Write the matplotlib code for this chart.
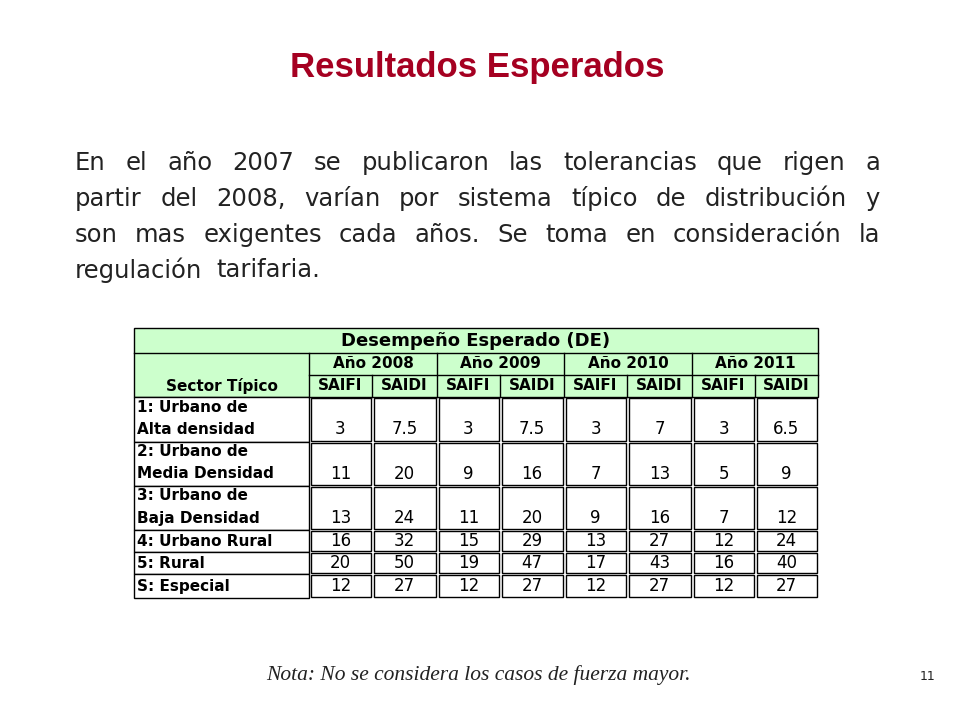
import matplotlib.pyplot as plt
from matplotlib.patches import Rectangle

title = "Resultados Esperados"
paragraph = [
    "En el año 2007 se publicaron las tolerancias que rigen a",
    "partir del 2008, varían por sistema típico de distribución y",
    "son mas exigentes cada años. Se toma en consideración la",
    "regulación  tarifaria.",
]
table_title = "Desempeño Esperado (DE)"
years = ["Año 2008", "Año 2009", "Año 2010", "Año 2011"]
indices = ["SAIFI", "SAIDI"]
sectors = ["1: Urbano de\nAlta densidad", "2: Urbano de\nMedia Densidad",
           "3: Urbano de\nBaja Densidad", "4: Urbano Rural", "5: Rural", "S: Especial"]
values = [
    ["3", "7.5", "3", "7.5", "3", "7", "3", "6.5"],
    ["11", "20", "9", "16", "7", "13", "5", "9"],
    ["13", "24", "11", "20", "9", "16", "7", "12"],
    ["16", "32", "15", "29", "13", "27", "12", "24"],
    ["20", "50", "19", "47", "17", "43", "16", "40"],
    ["12", "27", "12", "27", "12", "27", "12", "27"],
]
note = "Nota: No se considera los casos de fuerza mayor."

fig = plt.figure(figsize=(9.6, 7.2), dpi=100)
ax = fig.add_axes([0, 0, 1, 1])
ax.set_xlim(0, 960)
ax.set_ylim(720, 0)
ax.axis("off")

ax.text(477, 67, title, ha="center", va="center", fontsize=25, fontweight="bold",
        color="#A50021", family="Liberation Sans")

# justified paragraph
renderer = fig.canvas.get_renderer()
x0, x1 = 75, 880
for i, line in enumerate(paragraph):
    y = 163 + i * 35.8
    words = line.split()
    texts = [ax.text(0, y, w, ha="left", va="center", fontsize=17.5, color="#222222",
                     family="DejaVu Sans") for w in words]
    widths = [t.get_window_extent(renderer).width for t in texts]
    if i < len(paragraph) - 1:
        gap = (x1 - x0 - sum(widths)) / (len(words) - 1)
    else:
        gap = 14
    x = x0
    for t, w in zip(texts, widths):
        t.set_x(x)
        x += w + gap

# table
green = "#CCFFCC"
cols = [309, 372, 437, 500, 564, 627, 692, 755, 818]
left, right = 134, 818
rows = [397, 442, 486, 530, 552, 574, 598]
tkw = dict(fontsize=11, fontweight="bold", family="DejaVu Sans", color="black")

ax.add_patch(Rectangle((left, 328), right - left, 397 - 328, facecolor=green, edgecolor="black", lw=1))
ax.plot([left, right], [353, 353], color="black", lw=1)
ax.plot([cols[0], right], [375, 375], color="black", lw=1)
ax.text((left + right) / 2, 341, table_title, ha="center", va="center", **{**tkw, "fontsize": 13})
ax.text((left + cols[0]) / 2, 386, "Sector Típico", ha="center", va="center", **tkw)
for j, yr in enumerate(years):
    ax.text((cols[2 * j] + cols[2 * j + 2]) / 2, 364, yr, ha="center", va="center", **tkw)
    for k, ind in enumerate(indices):
        ax.text((cols[2 * j + k] + cols[2 * j + k + 1]) / 2, 386, ind, ha="center", va="center", **tkw)
for c in cols[:-1]:
    top = 353 if c in cols[::2] else 375
    ax.plot([c, c], [top, 397], color="black", lw=1)

for r in range(len(sectors)):
    y0, y1 = rows[r], rows[r + 1]
    ax.add_patch(Rectangle((left, y0), cols[0] - left, y1 - y0, facecolor="white", edgecolor="black", lw=1))
    lines = sectors[r].split("\n")
    if len(lines) == 2:
        ax.text(137, y0 + 10, lines[0], ha="left", va="center", **tkw)
        ax.text(137, y0 + 32, lines[1], ha="left", va="center", **tkw)
        ty = y0 + 32
    else:
        ax.text(137, (y0 + y1) / 2, lines[0], ha="left", va="center", **tkw)
        ty = (y0 + y1) / 2
    for c in range(8):
        ax.add_patch(Rectangle((cols[c] + 1.5, y0 + 1), cols[c + 1] - cols[c] - 3, y1 - y0 - 2,
                               facecolor="white", edgecolor="black", lw=1))
        ax.text((cols[c] + cols[c + 1]) / 2, ty, values[r][c], ha="center", va="center",
                **{**tkw, "fontweight": "normal", "fontsize": 12})

ax.text(478, 675, note, ha="center", va="center", fontsize=15.5, style="italic",
        family="Liberation Serif", color="#222222")
ax.text(928, 676, "11", ha="center", va="center", fontsize=9, color="#222222")

fig.savefig("out.png", dpi=100)
